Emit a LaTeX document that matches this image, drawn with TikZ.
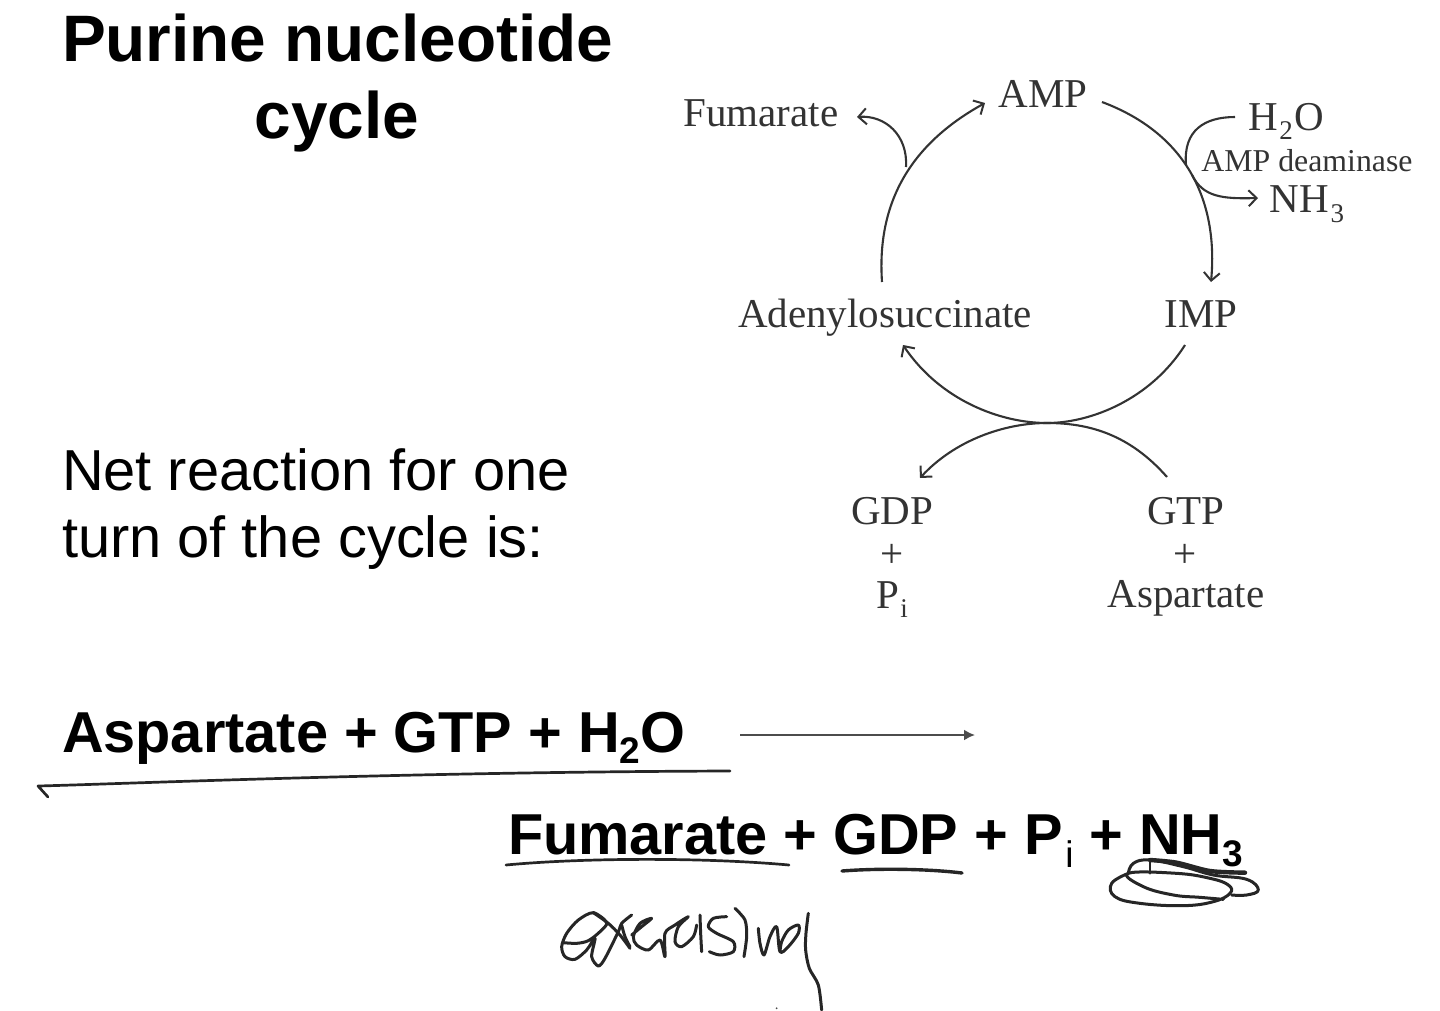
\documentclass[tikz,border=0pt]{standalone}
\usepackage{fontspec}
\setmainfont{Liberation Serif}
\newfontfamily\arialfont{Liberation Sans}
\usetikzlibrary{arrows.meta}
\newcommand{\fsz}[1]{\fontsize{#1pt}{#1pt}\selectfont}
\newcommand{\lowsub}[3]{\hspace{1.5pt}\raisebox{#1pt}{\fsz{#2}#3}\hspace{1.5pt}}
\newcommand{\boldsub}[3]{\raisebox{#1pt}{\fsz{#2}#3}}
\definecolor{inkgrey}{HTML}{333333}
\tikzset{
  x=1pt,y=-1pt,
  txt/.style={inner sep=0pt,outer sep=0pt},
  title/.style={txt,font=\arialfont\bfseries\fsz{65.7}},
  body/.style={txt,anchor=base west,font=\arialfont\fsz{57.8}},
  eqn/.style={txt,anchor=base west,font=\arialfont\bfseries\fsz{57.7}},
  lab/.style={txt,anchor=base,text=inkgrey,font=\fsz{41}},
  arc/.style={draw=inkgrey,line width=2.1pt},
  flow/.style={arc,-{Straight Barb[length=8pt,width=16pt,line width=2pt]}},
  pen/.style={draw=black!85,line width=2.7pt,line cap=round,line join=round},
  scrawl/.style={pen,line width=3pt},
}
\begin{document}
\begin{tikzpicture}
\useasboundingbox (0,0) rectangle (1440,1010);
% headings
\node[title,anchor=base west] (t1) at (62,61) {Purine nucleotide};
\node[title,anchor=base] (t2) at (337,138) {cycle};
\node[body] (n1) at (62,490) {Net reaction for one};
\node[body] (n2) at (62,557) {turn of the cycle is:};
\node[eqn] (eq1) at (62,752) {Aspartate + GTP + H\boldsub{-11}{37}{2}O};
\node[eqn] (eq2) at (508,854) {Fumarate + GDP + P\hspace{2.5pt}\boldsub{-13}{37}{\mdseries i} + NH\boldsub{-12}{37}{3}};
% cycle labels
\node[lab] (amp) at (1043,107) {AMP};
\node[lab] (fum) at (761,126) {Fumarate};
\node[lab] (ade) at (885,327) {Adenylosuccinate};
\node[lab] (imp) at (1201,327) {IMP};
\node[lab] (h2o) at (1286,130) {H\lowsub{-9}{27}{2}O};
\node[lab,font=\fsz{31.8}] (dea) at (1307,171) {AMP deaminase};
\node[lab] (nh3) at (1307,212) {NH\lowsub{-10}{27}{3}};
\node[lab] (gdp) at (892,524) {GDP};
\node[lab] (pa) at (892,567) {+};
\node[lab] (pi) at (892,608) {P\lowsub{-9}{27}{i}};
\node[lab] (gtp) at (1186,524) {GTP};
\node[lab] (pb) at (1185,567) {+};
\node[lab] (asp) at (1186,607) {Aspartate};
% connector ends
\coordinate (adeT) at (882,282);
\coordinate (ampW) at (985,103);
\coordinate (ampE) at (1102,102);
\coordinate (impN) at (1211,282);
\coordinate (fumE) at (857,117);
\coordinate (split) at (906,167);
\coordinate (h2oW) at (1235,117);
\coordinate (join) at (1186,165);
\coordinate (leave) at (1192,175);
\coordinate (nh3W) at (1258,198);
\coordinate (impS) at (1185,345);
\coordinate (adeS) at (903,345);
\coordinate (touch) at (1047,423);
\coordinate (gtpN) at (1167,477);
\coordinate (gdpN) at (920,478);
\coordinate (arrS) at (740,735);
\coordinate (arrE) at (975,735);
% cycle
\draw[flow] (adeT) .. controls (876,195) and (918,140) .. (ampW);
\draw[flow] (ampE) .. controls (1190,135) and (1218,205) .. (impN);
\draw[flow] (split) .. controls (908,135) and (885,115) .. (fumE);
\draw[arc] (h2oW) .. controls (1205,117) and (1183,130) .. (join);
\draw[flow] (leave) .. controls (1203,197) and (1222,199) .. (nh3W);
\draw[flow] (impS) .. controls (1150,400) and (1090,423) .. (touch) .. controls (1000,423) and (940,400) .. (adeS);
\draw[flow] (gtpN) .. controls (1130,435) and (1090,423) .. (touch) .. controls (1005,423) and (955,440) .. (gdpN);
\draw[draw=black!70,line width=2pt,-{Latex[length=11pt,width=11pt]}] (arrS) -- (arrE);
% handwriting
\draw[pen] (48,797) -- (38,786) .. controls (120,784) and (400,772) .. (730,771);
\draw[pen] (506,865) .. controls (580,858) and (700,857) .. (789,865);
\draw[pen,line width=3.4pt] (842,871) .. controls (880,868) and (930,869) .. (962,873);
\begin{scope}[shift={(1100,840)},x=0.3333pt,y=-0.3333pt]
\draw[scrawl] plot[smooth,tension=0.7] coordinates {(85,100) (35,130) (45,170) (120,190) (250,197) (340,185) (390,160) (385,135) (330,115) (230,100) (85,100) (130,140) (220,165) (300,172) (370,178)};
\draw[scrawl] plot[smooth,tension=0.7] coordinates {(85,100) (100,70) (150,60) (250,80) (340,105) (440,118) (475,150) (440,165) (395,165)};
\draw[pen,line width=4.4pt] plot[smooth] coordinates {(150,60) (230,68) (330,93) (435,98)};
\draw[pen] (150,60) -- (150,100);
\end{scope}
\begin{scope}[shift={(550,900)},x=0.3333pt,y=-0.3333pt]
\draw[scrawl] plot[smooth,tension=0.5] coordinates {(40,128) (80,130) (115,122) (150,95) (170,68) (130,38) (85,60) (50,100) (35,140) (45,170) (75,178) (110,150) (135,115) (125,170) (145,198) (165,175) (205,95) (215,70) (245,45)};
\draw[scrawl] plot[smooth,tension=0.5] coordinates {(130,38) (175,70) (210,105) (240,145)};
\draw[scrawl] plot[smooth,tension=0.5] coordinates {(215,75) (225,110) (240,140)};
\draw[scrawl] plot[smooth,tension=0.5] coordinates {(245,105) (275,80) (305,55) (270,70) (250,110) (260,135) (295,150) (330,120) (345,170) (345,100) (375,75) (415,50) (385,80) (375,125) (395,140) (430,110) (440,75)};
\draw[scrawl] plot[smooth,tension=0.5] coordinates {(450,45) (452,100) (455,155)};
\draw[scrawl] plot[smooth,tension=0.5] coordinates {(530,50) (490,55) (475,80) (500,100) (550,125) (550,155) (510,165) (478,155)};
\draw[scrawl] plot[smooth,tension=0.5] coordinates {(555,25) (585,60) (590,110) (582,170)};
\draw[scrawl] plot[smooth,tension=0.5] coordinates {(625,85) (630,130) (642,165) (660,110) (680,80) (690,155) (715,140) (745,100) (745,75) (715,90) (695,125) (690,155)};
\draw[scrawl] plot[smooth,tension=0.5] coordinates {(775,40) (768,100) (767,150) (778,205) (805,255) (815,330)};
\fill[black!70] (680,325) circle[radius=3];
\end{scope}
\end{tikzpicture}
\end{document}
